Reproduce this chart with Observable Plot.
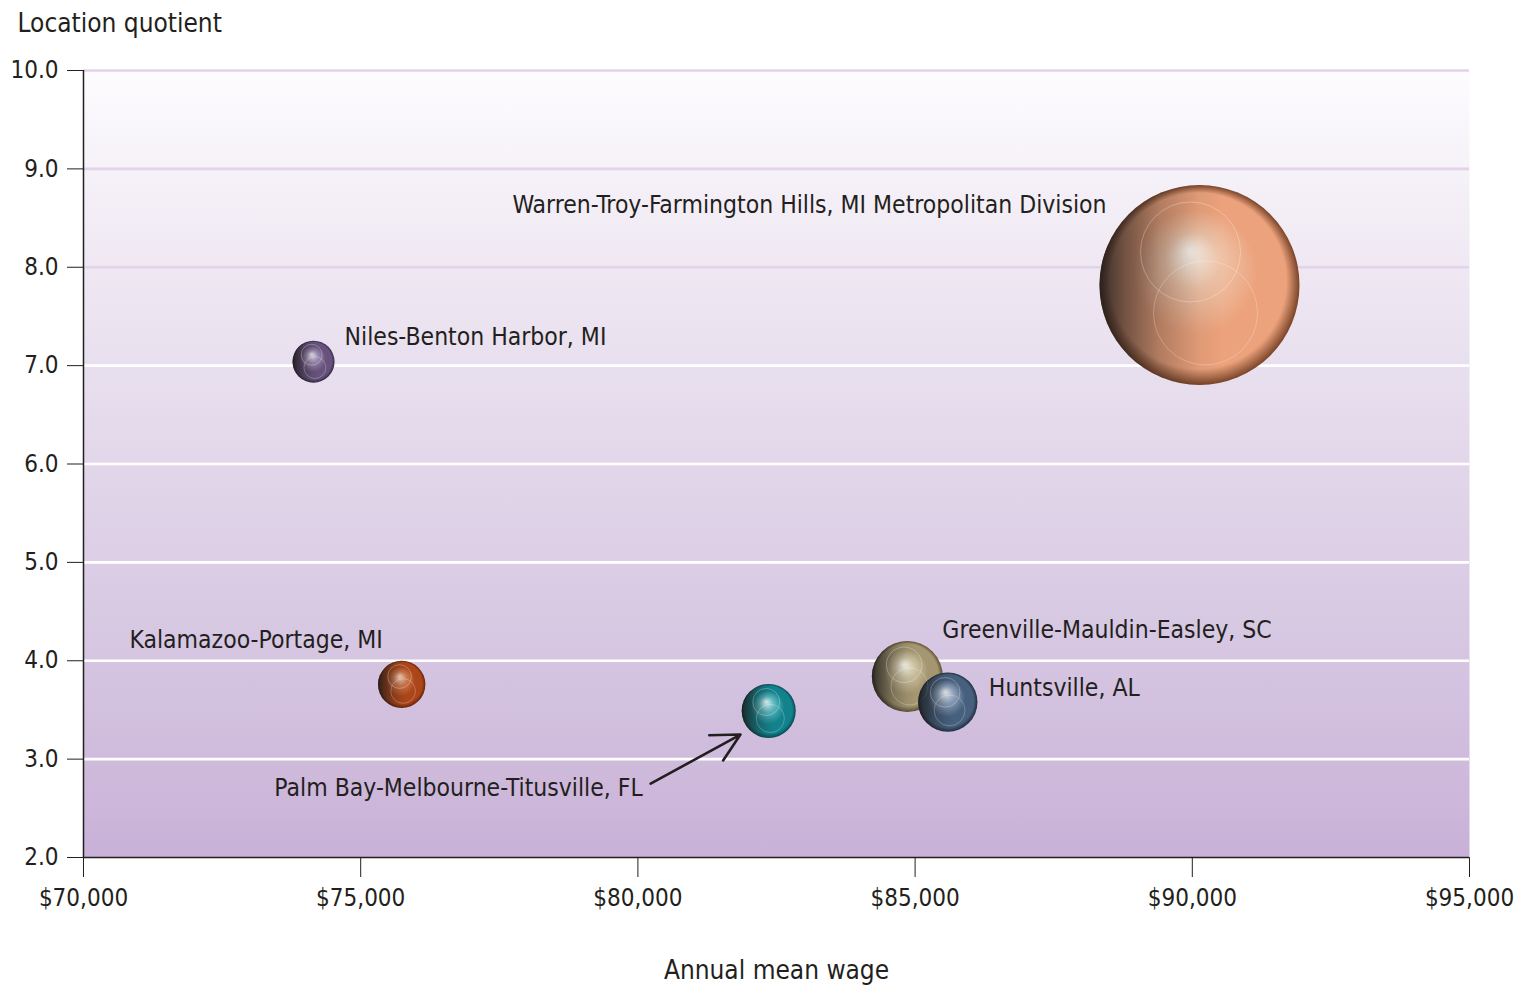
<!DOCTYPE html>
<html>
<head>
<meta charset="utf-8">
<script src="https://cdn.jsdelivr.net/npm/d3@7"></script>
<script src="https://cdn.jsdelivr.net/npm/@observablehq/plot@0.6"></script>
<style>
  html, body { margin: 0; padding: 0; background: #fff; }
</style>
</head>
<body>
<div id="chart"></div>
<script>
// ---- Data ----
const cities = ["Warren-Troy-Farmington Hills, MI Metropolitan Division", "Niles-Benton Harbor, MI", "Kalamazoo-Portage, MI", "Palm Bay-Melbourne-Titusville, FL", "Greenville-Mauldin-Easley, SC", "Huntsville, AL"];
const keys = ["warren", "niles", "kalamazoo", "palmbay", "greenville", "huntsville"];
const wages = [90130, 74150, 75740, 82360, 84860, 85590];
const quotients = [7.82, 7.04, 3.76, 3.49, 3.84, 3.58];
const employment = [10000, 440, 560, 730, 1260, 880];
const xTicks = [70000, 75000, 80000, 85000, 90000, 95000];
const yTicks = [2, 3, 4, 5, 6, 7, 8, 9, 10];
const gridLines = [3, 4, 5, 6, 7, 8, 9, 10];
const xLabel = "Annual mean wage";
const yLabel = "Location quotient";
const arrowFrom = {wage: 80230, lq: 2.75};
const arrowTo = {wage: 81850, lq: 3.25};

// ---- Styling (not data) ----
const palette = {
  warren:     {hi: "#fff9f2", mid: "#efc4a8", base: "#eca27c", dark: "#7a4428"},
  niles:      {hi: "#eee8f6", mid: "#9c8cb0", base: "#66527c", dark: "#352843"},
  kalamazoo:  {hi: "#f8d8c0", mid: "#cc7a50", base: "#ac4519", dark: "#622406"},
  palmbay:    {hi: "#eaffff", mid: "#5cb8c0", base: "#12828c", dark: "#084a52"},
  greenville: {hi: "#fffdf2", mid: "#cfc4a4", base: "#a49670", dark: "#5a5034"},
  huntsville: {hi: "#f2f5fb", mid: "#8ea2bc", base: "#46607e", dark: "#222f42"}
};
const labelStyle = {
  warren:     {dx: -93, dy: -80, anchor: "end"},
  niles:      {dx: 31,  dy: -25, anchor: "start"},
  kalamazoo:  {dx: -19, dy: -44, anchor: "end"},
  palmbay:    {dx: -126, dy: 77, anchor: "end"},
  greenville: {dx: 35,  dy: -46, anchor: "start"},
  huntsville: {dx: 41,  dy: -14, anchor: "start"}
};
const FONT = '"Liberation Sans Narrow", "DejaVu Sans Condensed", "Arial Narrow", sans-serif';
const INK = "#231f20";

const data = cities.map((name, i) => ({name, key: keys[i], wage: wages[i], lq: quotients[i], emp: employment[i]}));

const labelMarks = data.map(d => Plot.text([d], {
  x: "wage", y: "lq", text: "name",
  dx: labelStyle[d.key].dx, dy: labelStyle[d.key].dy,
  textAnchor: labelStyle[d.key].anchor,
  fill: INK, fontSize: 24.5
}));

const chart = Plot.plot({
  width: 1526,
  height: 987,
  marginLeft: 83,
  marginRight: 57,
  marginTop: 70,
  marginBottom: 130,
  style: {fontFamily: FONT, fontSize: "24px", color: INK, background: "white", overflow: "visible"},
  x: {domain: [70000, 95000], ticks: xTicks, tickFormat: d => "$" + d3.format(",")(d), tickSize: 20, tickPadding: 11, label: null},
  y: {domain: [2, 10], ticks: yTicks, tickFormat: d => d.toFixed(1), tickSize: 16, tickPadding: 9, label: null},
  r: {type: "sqrt", domain: [0, 10000], range: [0, 100]},
  color: {type: "identity"},
  marks: [
    Plot.frame({fill: "url(#bgGrad)", stroke: null}),
    Plot.ruleY(gridLines, {stroke: d => d >= 8 ? "#e1d3ea" : "#ffffff", strokeWidth: 2.6}),
    Plot.ruleX([70000], {stroke: INK, strokeWidth: 1.5}),
    Plot.ruleY([2], {stroke: INK, strokeWidth: 1.5}),
    Plot.dot(data, {
      x: "wage", y: "lq", r: "emp",
      fill: d => `url(#g-${d.key})`,
      stroke: null,
      render(index, scales, values, dims, ctx, next) {
        const g = next(index, scales, values, dims, ctx);
        const sel = d3.select(g);
        for (const i of index) {
          const cx = values.x[i], cy = values.y[i], r = values.r[i];
          sel.append("circle").attr("cx", cx).attr("cy", cy).attr("r", r).attr("fill", "url(#shadeLeft)");
          sel.append("circle").attr("cx", cx - 0.09 * r).attr("cy", cy - 0.33 * r).attr("r", 0.5 * r)
            .attr("fill", "none").attr("stroke", "#ffffff").attr("stroke-opacity", 0.35).attr("stroke-width", 0.8);
          sel.append("circle").attr("cx", cx + 0.06 * r).attr("cy", cy + 0.28 * r).attr("r", 0.52 * r)
            .attr("fill", "none").attr("stroke", "#ffffff").attr("stroke-opacity", 0.3).attr("stroke-width", 0.8);
        }
        return g;
      }
    }),
    ...labelMarks,
    Plot.arrow([{from: arrowFrom, to: arrowTo}], {
      x1: d => d.from.wage, y1: d => d.from.lq, x2: d => d.to.wage, y2: d => d.to.lq,
      stroke: INK, strokeWidth: 2.6, headLength: 18, headAngle: 55, bend: 0
    }),
    Plot.text([yLabel], {frameAnchor: "top-left", lineAnchor: "middle", text: d => d, dx: -66, dy: -47, textAnchor: "start", fill: INK, fontSize: 26}),
    Plot.text([xLabel], {frameAnchor: "bottom", lineAnchor: "middle", text: d => d, dy: 113, fill: INK, fontSize: 26})
  ]
});

// gradients
const svg = d3.select(chart);
const defs = svg.insert("defs", ":first-child");
const bg = defs.append("linearGradient").attr("id", "bgGrad").attr("x1", 0).attr("y1", 0).attr("x2", 0).attr("y2", 1);
[[0, "#fdfcfe"], [0.25, "#efe8f3"], [0.5, "#e2d7ea"], [0.75, "#d5c5e1"], [1, "#c9b1d7"]]
  .forEach(([o, c]) => bg.append("stop").attr("offset", o).attr("stop-color", c));
const shade = defs.append("linearGradient").attr("id", "shadeLeft").attr("x1", 0).attr("y1", 0).attr("x2", 1).attr("y2", 0);
[[0, 0.85], [0.12, 0.6], [0.3, 0.28], [0.5, 0.06], [0.62, 0.0], [1, 0.0]]
  .forEach(([o, a]) => shade.append("stop").attr("offset", o).attr("stop-color", "#1c1a1a").attr("stop-opacity", a));
for (const k of keys) {
  const p = palette[k];
  const rg = defs.append("radialGradient").attr("id", `g-${k}`)
    .attr("cx", 0.5).attr("cy", 0.5).attr("r", 0.5).attr("fx", 0.45).attr("fy", 0.33);
  [[0, p.hi], [0.28, p.mid], [0.62, p.base], [0.88, p.base], [1, p.dark]]
    .forEach(([o, c]) => rg.append("stop").attr("offset", o).attr("stop-color", c));
}

document.getElementById("chart").appendChild(chart);
</script>
</body>
</html>
